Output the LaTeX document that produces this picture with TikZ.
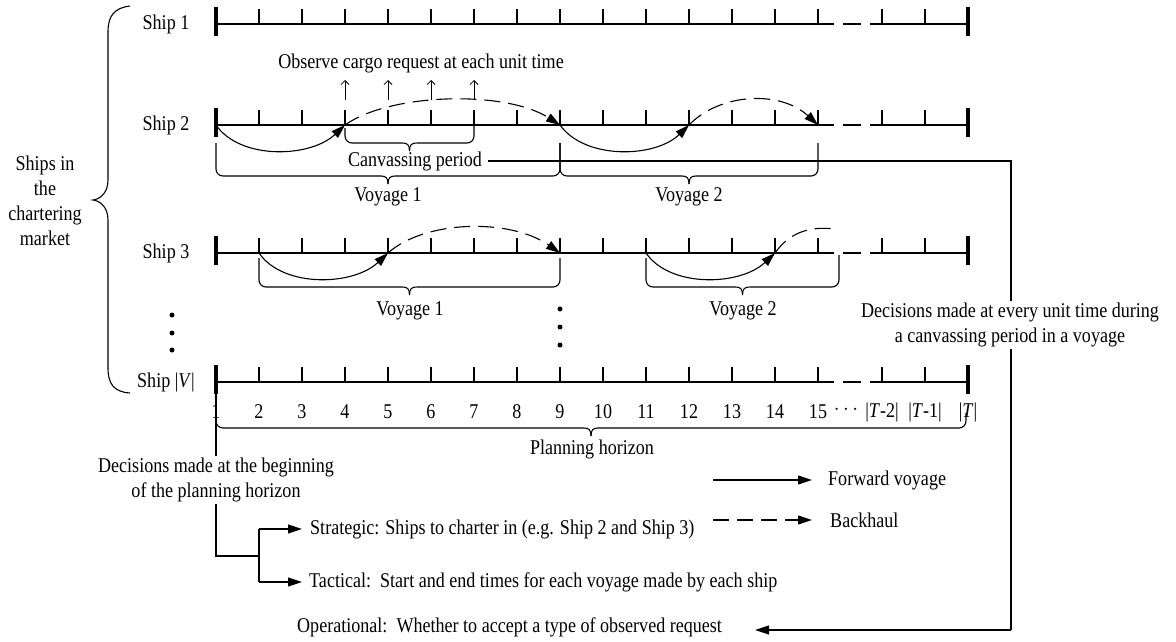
\documentclass[tikz,border=0pt]{standalone}
\usepackage{fontspec}
\setmainfont[FakeStretch=0.86]{Liberation Serif}
\usetikzlibrary{arrows.meta}
\newcommand\shipaxis[2]{%
  \foreach \k in {1,...,15} {\coordinate (#2-\k) at ({216+43*(\k-1)},#1);}
  \coordinate (#2-a) at (882,#1);
  \coordinate (#2-b) at (925,#1);
  \coordinate (#2-T) at (968,#1);
  \draw[ln] (#2-1) -- (834,#1) (843,#1) -- (861,#1) (870,#1) -- (#2-T);
  \foreach \k in {2,...,15} {\draw[ln] (#2-\k) -- ++(0,-15);}
  \draw[ln] (#2-a) -- ++(0,-15) (#2-b) -- ++(0,-15);
  \draw[bar] ([yshift=17pt]#2-1) -- ([yshift=-12pt]#2-1);
  \draw[bar] ([yshift=17pt]#2-T) -- ([yshift=-12pt]#2-T);
}
\newcommand\hbrace[5]{%
  \pgfmathsetmacro\xm{(#1+#3)/2}%
  \draw[ln, rounded corners=7pt] (#1,#2) |- (\xm-7,#5);
  \draw[ln] (\xm-7,#5) .. controls (\xm-2,#5) and (\xm,#5+2) .. (\xm,#5+8);
  \draw[ln, rounded corners=7pt] (#3,#4) |- (\xm+7,#5);
  \draw[ln] (\xm+7,#5) .. controls (\xm+2,#5) and (\xm,#5+2) .. (\xm,#5+8);
}
\begin{document}
\begin{tikzpicture}[x=1pt,y=-1pt,
  font=\fontsize{21}{25}\selectfont,
  ln/.style={line width=1.1pt},
  bar/.style={line width=3.2pt},
  fwd/.style={line width=1.1pt,-{Triangle[length=14pt,width=9pt]}},
  bwd/.style={line width=1.1pt,dash pattern=on 16pt off 8pt,-{Triangle[length=14pt,width=9pt]}},
  bwdplain/.style={line width=1.1pt,dash pattern=on 16pt off 8pt},
  obs/.style={line width=0.8pt,-{Straight Barb[length=4pt,width=8pt]}},
  dotn/.style={circle,fill,inner sep=0pt,minimum size=5pt},
  wt/.style={fill=white,align=center,inner sep=2pt}]
\useasboundingbox (0,0) rectangle (1176,642);

% ship axes
\shipaxis{24}{sa}
\shipaxis{125}{sb}
\shipaxis{253}{sc}
\shipaxis{382}{sv}

% ship labels
\node (l1) at (166,24) {Ship 1};
\node (l2) at (166,125) {Ship 2};
\node (l3) at (166,253) {Ship 3};
\node (lv) at (166,382) {Ship |\textit{V}|};

% left brace and label
\draw[ln] (130,6) .. controls (114,8) and (108,16) .. (108,32) -- (108,180)
  .. controls (108,192) and (101,199) .. (93,200)
  .. controls (101,201) and (108,208) .. (108,220) -- (108,368)
  .. controls (108,384) and (114,392) .. (130,393);
\node[align=center] (mkt) at (45,201) {Ships in\\the\\chartering\\market};

% dots
\node[dotn] (d1) at (172,315) {};
\node[dotn] (d2) at (172,333) {};
\node[dotn] (d3) at (172,350) {};
\node[dotn] (d4) at (560,309) {};
\node[dotn] (d5) at (560,327) {};
\node[dotn] (d6) at (560,345) {};

% ship 2 voyages
\draw[fwd] (sb-1) .. controls +(24,35) and +(-35,33) .. (sb-4);
\draw[bwd] (sb-4) .. controls +(45,-32) and +(-55,-35) .. (sb-9);
\draw[fwd] (sb-9) .. controls +(25,35) and +(-34,33) .. (sb-12);
\draw[bwd] (sb-12) .. controls +(31,-32) and +(-38,-35) .. (sb-15);

% observe arrows
\foreach \k in {4,5,6,7} {\draw[obs] ([yshift=25pt]sb-\k) -- ([yshift=45pt]sb-\k);}
\node (obs) at (421,63) {Observe cargo request at each unit time};

% ship 2 braces
\hbrace{345}{128}{474}{125}{143}
\node[inner sep=6pt] (canv) at (415,161) {Canvassing period};
\hbrace{216}{143}{560}{143}{176}
\hbrace{560}{143}{818}{143}{176}
\node (v21) at (388,197) {Voyage 1};
\node (v22) at (689,197) {Voyage 2};

% ship 3 voyages
\draw[fwd] (sc-2) .. controls +(24,35) and +(-35,33) .. (sc-5);
\draw[bwd] (sc-5) .. controls +(37,-33) and +(-50,-35) .. (sc-9);
\draw[fwd] (sc-11) .. controls +(24,35) and +(-35,33) .. (sc-14);
\coordinate (scend) at (835,229);
\draw[bwdplain] (sc-14) .. controls +(15,-21) and +(-25,-3) .. (scend);
\hbrace{259}{258}{560}{258}{287}
\hbrace{646}{258}{839}{255}{287}
\node (v31) at (410,311) {Voyage 1};
\node (v32) at (743,311) {Voyage 2};

% time labels
\foreach \k in {1,...,15} {\node (t\k) at ({216+43*(\k-1)},412) {\k};}
\node (tdots) at (846,410) {$\cdots$};
\node (ta) at (882,412) {|\textit{T}-2|};
\node (tb) at (925,412) {|\textit{T}-1|};
\node (tT) at (968,412) {|\textit{T}|};

% planning horizon
\hbrace{216}{417}{966}{413}{428}
\node (ph) at (592,449) {Planning horizon};

% right decision path
\coordinate (cr) at (1011,161);
\coordinate (rb) at (1011,630);
\coordinate (opt) at (755,630);
\draw[ln] (canv.east) -- (cr) -- (rb);
\draw[fwd] (rb) -- (opt);
\node[wt] (dec2) at (1010,325) {Decisions made at every unit time during\\a canvassing period in a voyage};
\node[anchor=west,inner sep=0pt] (op) at (297,627) {Operational:\ \ Whether to accept a type of observed request};

% left decision path
\coordinate (lb) at (216,556);
\coordinate (br) at (259,556);
\coordinate (bs) at (259,529);
\coordinate (bt) at (259,582);
\draw[ln] (sv-1) -- (lb) -- (br);
\draw[ln] (bs) -- (bt);
\node[anchor=west,inner sep=0pt] (strat) at (310,529) {Strategic: Ships to charter in (e.g. Ship 2 and Ship 3)};
\node[anchor=west,inner sep=0pt] (tact) at (309,582) {Tactical:\ \ Start and end times for each voyage made by each ship};
\draw[fwd] (bs) -- ([xshift=-8pt]strat.west);
\draw[fwd] (bt) -- ([xshift=-7pt]tact.west);
\node[wt] (dec1) at (216,480) {Decisions made at the beginning\\of the planning horizon};

% legend
\coordinate (fa) at (713,480);
\coordinate (fb) at (812,480);
\coordinate (ba) at (713,520);
\coordinate (bb) at (812,520);
\draw[fwd] (fa) -- (fb);
\draw[bwd] (ba) -- (bb);
\node[anchor=west,inner sep=0pt] (fwdl) at (828,480) {Forward voyage};
\node[anchor=west,inner sep=0pt] (bwdl) at (830,520) {Backhaul};
\end{tikzpicture}
\end{document}
